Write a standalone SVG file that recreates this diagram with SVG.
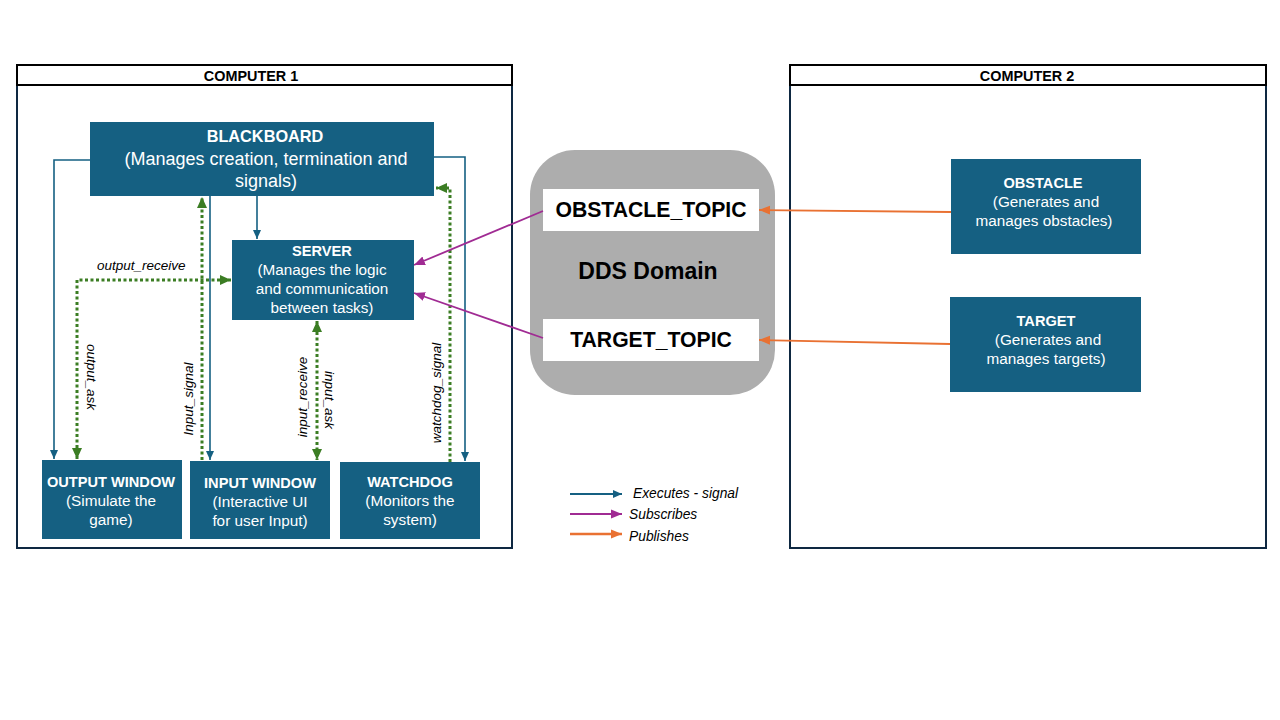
<svg xmlns="http://www.w3.org/2000/svg" width="1280" height="720" viewBox="0 0 1280 720">
<style>
  .node { fill: #156082; }
  .nt { font-family: "Liberation Sans", Arial, sans-serif; fill: #ffffff; font-size: 15.3px; text-anchor: middle; }
  .b { font-weight: bold; font-size: 14.6px; }
  .frame { fill: #ffffff; stroke: #0e2841; stroke-width: 2; }
  .hdr { fill: none; stroke: #000000; stroke-width: 2; }
  .ht { font-family: "Liberation Sans", Arial, sans-serif; font-weight: bold; font-size: 14.4px; fill: #000; text-anchor: middle; }
  .topic { fill: #ffffff; }
  .tt { font-family: "Liberation Sans", Arial, sans-serif; font-weight: bold; font-size: 21.2px; fill: #000; text-anchor: middle; }
  .exe { fill: none; stroke: #156082; stroke-width: 1.6; }
  .sig { fill: none; stroke: #3b7d23; stroke-width: 3; stroke-dasharray: 3 2.5; }
  .sub { fill: none; stroke: #a02b93; stroke-width: 1.8; }
  .pub { fill: none; stroke: #e97132; stroke-width: 1.8; }
  .lbl { font-family: "Liberation Sans", Arial, sans-serif; font-style: italic; font-size: 13.5px; fill: #000; }
  .leg { font-family: "Liberation Sans", Arial, sans-serif; font-style: italic; font-size: 13.8px; fill: #000; }
</style>
<defs>
  <marker id="aBlue" markerUnits="userSpaceOnUse" markerWidth="10" markerHeight="10" refX="9" refY="5" orient="auto-start-reverse" viewBox="0 0 10 10">
    <path d="M0,1 L9,5 L0,9 Z" fill="#156082"/>
  </marker>
  <marker id="aGreen" markerUnits="userSpaceOnUse" markerWidth="12" markerHeight="12" refX="11" refY="6" orient="auto-start-reverse" viewBox="0 0 12 12">
    <path d="M0,1 L11,6 L0,11 Z" fill="#3b7d23"/>
  </marker>
  <marker id="aPurple" markerUnits="userSpaceOnUse" markerWidth="12" markerHeight="10" refX="11" refY="5" orient="auto" viewBox="0 0 12 10">
    <path d="M0,0.5 L11,5 L0,9.5 Z" fill="#a02b93"/>
  </marker>
  <marker id="aOrange" markerUnits="userSpaceOnUse" markerWidth="12" markerHeight="10" refX="11" refY="5" orient="auto" viewBox="0 0 12 10">
    <path d="M0,0.5 L11,5 L0,9.5 Z" fill="#e97132"/>
  </marker>
</defs>

<rect width="1280" height="720" fill="#ffffff"/>

<g id="computer1">
  <rect class="frame" x="17" y="65" width="495" height="483"/>
  <rect class="hdr" x="17" y="65" width="495" height="20"/>
  <text class="ht" x="251" y="81">COMPUTER 1</text>
</g>

<g id="computer2">
  <rect class="frame" x="790" y="65" width="476" height="483"/>
  <rect class="hdr" x="790" y="65" width="476" height="20"/>
  <text class="ht" x="1027" y="81">COMPUTER 2</text>
</g>

<g id="dds-domain">
  <rect x="530" y="150" width="245" height="245" rx="45" ry="45" fill="#adadad"/>
  <text class="tt" x="648" y="279" style="font-size:23px">DDS Domain</text>
</g>

<g id="obstacle-topic">
  <rect class="topic" x="543" y="189" width="216" height="42"/>
  <text class="tt" x="651" y="217">OBSTACLE_TOPIC</text>
</g>

<g id="target-topic">
  <rect class="topic" x="543" y="319" width="216" height="42"/>
  <text class="tt" x="651" y="347">TARGET_TOPIC</text>
</g>

<g id="connectors">
  <!-- executes (blue) -->
  <path class="exe" d="M90,160 H54 V459" marker-end="url(#aBlue)"/>
  <path class="exe" d="M434,157 H465 V461" marker-end="url(#aBlue)"/>
  <path class="exe" d="M257,196 V239" marker-end="url(#aBlue)"/>
  <path class="exe" d="M210,196 V460" marker-end="url(#aBlue)"/>
  <!-- signals (green dotted) -->
  <path class="sig" d="M77,459 V280 H231" marker-start="url(#aGreen)" marker-end="url(#aGreen)"/>
  <path class="sig" d="M202,460 V197" marker-end="url(#aGreen)"/>
  <path class="sig" d="M317,321 V460" marker-start="url(#aGreen)" marker-end="url(#aGreen)"/>
  <path class="sig" d="M450,462 V188 H436" marker-end="url(#aGreen)"/>
  <!-- subscribes (purple) -->
  <path class="sub" d="M543,211 L414,265" marker-end="url(#aPurple)"/>
  <path class="sub" d="M543,338 L414,293" marker-end="url(#aPurple)"/>
  <!-- publishes (orange) -->
  <path class="pub" d="M951,212 L759,210" marker-end="url(#aOrange)"/>
  <path class="pub" d="M950,344 L759,340" marker-end="url(#aOrange)"/>
  <!-- labels -->
  <text class="lbl" x="97" y="270">output_receive</text>
  <text class="lbl" text-anchor="middle" transform="translate(87,377) rotate(90)">output_ask</text>
  <text class="lbl" text-anchor="middle" transform="translate(193,399) rotate(-90)">Input_signal</text>
  <text class="lbl" text-anchor="middle" transform="translate(307,397) rotate(-90)">input_receive</text>
  <text class="lbl" text-anchor="middle" transform="translate(325,400) rotate(90)">input_ask</text>
  <text class="lbl" text-anchor="middle" transform="translate(441,393) rotate(-90)">watchdog_signal</text>
</g>

<g id="blackboard">
  <rect class="node" x="90" y="122" width="344" height="74"/>
  <text class="nt b" x="265" y="142" style="font-size:16.3px">BLACKBOARD</text>
  <text class="nt" x="266" y="165" style="font-size:18px">(Manages creation, termination and</text>
  <text class="nt" x="266" y="187" style="font-size:18px">signals)</text>
</g>

<g id="server">
  <rect class="node" x="232" y="240" width="182" height="80"/>
  <text class="nt b" x="322" y="256">SERVER</text>
  <text class="nt" x="322" y="275">(Manages the logic</text>
  <text class="nt" x="322" y="294">and communication</text>
  <text class="nt" x="322" y="313">between tasks)</text>
</g>

<g id="output-window">
  <rect class="node" x="42" y="460" width="140" height="79"/>
  <text class="nt b" x="111" y="487">OUTPUT WINDOW</text>
  <text class="nt" x="111" y="506">(Simulate the</text>
  <text class="nt" x="111" y="525">game)</text>
</g>

<g id="input-window">
  <rect class="node" x="190" y="461" width="140" height="78"/>
  <text class="nt b" x="260" y="488">INPUT WINDOW</text>
  <text class="nt" x="260" y="507">(Interactive UI</text>
  <text class="nt" x="260" y="526">for user Input)</text>
</g>

<g id="watchdog">
  <rect class="node" x="340" y="462" width="140" height="77"/>
  <text class="nt b" x="410" y="487">WATCHDOG</text>
  <text class="nt" x="410" y="506">(Monitors the</text>
  <text class="nt" x="410" y="525">system)</text>
</g>

<g id="obstacle">
  <rect class="node" x="951" y="159" width="190" height="95"/>
  <text class="nt b" x="1043" y="188">OBSTACLE</text>
  <text class="nt" x="1046" y="207">(Generates and</text>
  <text class="nt" x="1044" y="226">manages obstacles)</text>
</g>

<g id="target">
  <rect class="node" x="950" y="297" width="191" height="95"/>
  <text class="nt b" x="1046" y="326">TARGET</text>
  <text class="nt" x="1048" y="345">(Generates and</text>
  <text class="nt" x="1046" y="364">manages targets)</text>
</g>

<g id="legend">
  <path class="exe" d="M570,494 H622" marker-end="url(#aBlue)" style="stroke-width:2"/>
  <path class="sub" d="M570,514 H622" marker-end="url(#aPurple)" style="stroke-width:2"/>
  <path class="pub" d="M570,534 H622" marker-end="url(#aOrange)" style="stroke-width:2.5"/>
  <text class="leg" x="633" y="498">Executes - signal</text>
  <text class="leg" x="629" y="519">Subscribes</text>
  <text class="leg" x="629" y="541">Publishes</text>
</g>
</svg>
